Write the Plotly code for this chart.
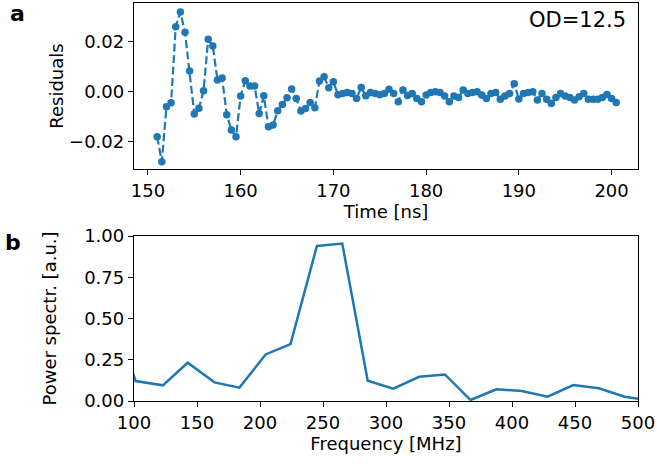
import plotly.graph_objects as go

# ---- Panel a: residuals vs time ----
t_start = 151.0
t_step = 0.5
residuals = [
    -0.0180, -0.0280, -0.0060, -0.0044, 0.0260, 0.0319, 0.0238, 0.0083, -0.0089, -0.0066,
    0.0004, 0.0210, 0.0183, 0.0047, 0.0055, -0.0092, -0.0153, -0.0180, -0.0017, 0.0044,
    0.0023, 0.0023, -0.0087, -0.0016, -0.0140, -0.0133, -0.0076, -0.0051, -0.0024, 0.0011,
    -0.0027, -0.0077, -0.0067, -0.0043, -0.0064, 0.0043, 0.0060, 0.0016, 0.0040, -0.0012,
    -0.0007, -0.0003, -0.0007, -0.0027, 0.0017, -0.0016, -0.0003, -0.0007, -0.0012, -0.0007,
    0.0010, -0.0007, -0.0040, 0.0007, -0.0015, -0.0007, -0.0027, -0.0040, -0.0013, -0.0003,
    0.0000, -0.0003, -0.0017, -0.0040, -0.0017, -0.0023, 0.0007, -0.0007, -0.0003, 0.0000,
    -0.0013, -0.0027, -0.0007, -0.0003, -0.0030, -0.0017, -0.0007, 0.0032, -0.0029, -0.0007,
    -0.0003, 0.0000, -0.0033, -0.0007, -0.0030, -0.0047, -0.0023, -0.0007, -0.0017, -0.0023,
    -0.0033, -0.0020, -0.0007, -0.0030, -0.0030, -0.0030, -0.0023, -0.0011, -0.0027, -0.0043,
]
times = [t_start + t_step * i for i in range(len(residuals))]

# ---- Panel b: power spectrum ----
freqs = [80.9, 101.3, 122.9, 142.6, 163.9, 183.7, 204.5, 224.2, 245.2, 265.3, 285.5,
         305.8, 326.3, 346.8, 367.1, 387.6, 407.8, 428.3, 448.6, 468.9, 489.4, 509.8]
power = [0.60, 0.121, 0.095, 0.232, 0.113, 0.081, 0.282, 0.345, 0.940, 0.954, 0.123,
         0.075, 0.147, 0.161, 0.006, 0.071, 0.061, 0.026, 0.097, 0.077, 0.026, 0.002]

top_ticks = [-0.02, 0.0, 0.02]
bot_ticks = [0.0, 0.25, 0.5, 0.75, 1.0]
time_ticks = [150, 160, 170, 180, 190, 200]
freq_ticks = [100, 150, 200, 250, 300, 350, 400, 450, 500]

C = "#1f77b4"
FONT = "DejaVu Sans"
FS = 18

fig = go.Figure()
fig.add_trace(go.Scatter(
    x=times, y=residuals, mode="lines+markers",
    line=dict(color=C, width=2.2, dash="8px,3.5px"),
    marker=dict(color=C, size=7.5),
    xaxis="x", yaxis="y", showlegend=False,
))
fig.add_trace(go.Scatter(
    x=freqs, y=power, mode="lines",
    line=dict(color=C, width=2.5),
    xaxis="x2", yaxis="y2", showlegend=False,
))

W, H = 657, 464
L, R, T, B = 134, 19, 3, 63
pw = W - L - R
ph = H - T - B


def py(p):
    return (H - B - p) / ph


def px(p):
    return (p - L) / pw


axis_common = dict(
    showline=True, mirror=True, linecolor="black", linewidth=1.3,
    ticks="outside", ticklen=5, tickwidth=1.3, tickcolor="black",
    showgrid=False, zeroline=False, automargin=False,
    tickfont=dict(family=FONT, size=FS, color="black"),
)

fig.update_layout(
    width=W, height=H,
    margin=dict(l=L, r=R, t=T, b=B, autoexpand=False),
    plot_bgcolor="white", paper_bgcolor="white",
    font=dict(family=FONT, size=FS, color="black"),
    xaxis=dict(axis_common, domain=[0, 1], anchor="y", range=[148.5, 202.85],
               tickvals=time_ticks,
               title=dict(text="Time [ns]", font=dict(family=FONT, size=FS), standoff=4)),
    yaxis=dict(axis_common, domain=[py(169), 1], anchor="x", range=[-0.0309, 0.0355],
               tickvals=top_ticks, tickformat=".2f",
               title=dict(text="Residuals", font=dict(family=FONT, size=FS), standoff=0)),
    xaxis2=dict(axis_common, domain=[0, 1], anchor="y2", range=[100, 500],
                tickvals=freq_ticks,
                title=dict(text="Frequency [MHz]", font=dict(family=FONT, size=FS), standoff=4)),
    yaxis2=dict(axis_common, domain=[0, py(236)], anchor="x2", range=[0, 1.0],
                tickvals=bot_ticks, tickformat=".2f",
                title=dict(text="Power spectr. [a.u.]", font=dict(family=FONT, size=FS), standoff=22)),
    annotations=[
        dict(text="<b>a</b>", x=px(17), y=py(14), xref="paper", yref="paper",
             showarrow=False, font=dict(family=FONT, size=22, color="black"),
             xanchor="center", yanchor="middle"),
        dict(text="<b>b</b>", x=px(13), y=py(243), xref="paper", yref="paper",
             showarrow=False, font=dict(family=FONT, size=22, color="black"),
             xanchor="center", yanchor="middle"),
        dict(text="OD=12.5", x=px(628), y=py(20), xref="paper", yref="paper",
             showarrow=False, font=dict(family=FONT, size=21, color="black"),
             xanchor="right", yanchor="middle"),
    ],
)

fig.write_html("out.html")
